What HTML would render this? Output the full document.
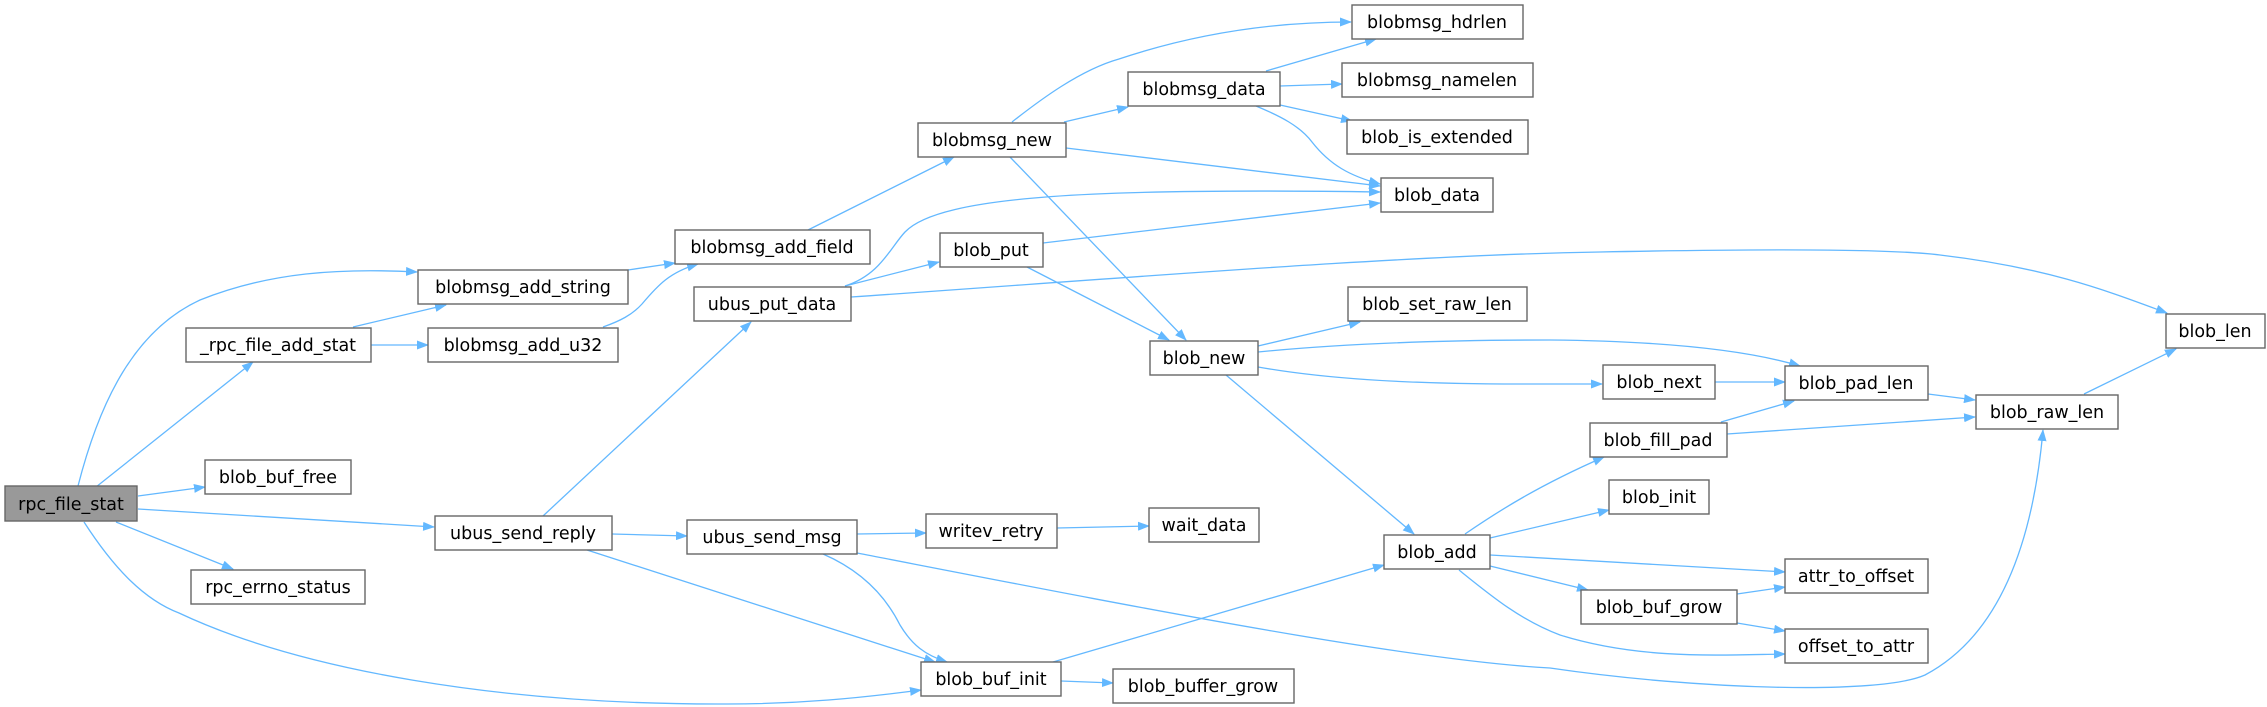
<!DOCTYPE html>
<html><head><meta charset="utf-8"><style>
html,body{margin:0;padding:0;background:#fff;}
svg{display:block;}
text{font-family:"DejaVu Sans","Liberation Sans",sans-serif;font-size:17.5px;fill:#000;text-anchor:middle;}
.b{fill:#fff;stroke:#666;stroke-width:1.4;}
.e{fill:none;stroke:#63b8ff;stroke-width:1.3;}
</style></head><body>
<svg width="2267" height="707" viewBox="0 0 2267 707" xmlns="http://www.w3.org/2000/svg">
<defs><marker id="a" markerWidth="12" markerHeight="9" refX="11" refY="4.5" orient="auto" markerUnits="userSpaceOnUse"><path d="M0,0 L12,4.5 L0,9 Z" fill="#63b8ff"/></marker></defs>
<g class="e" marker-end="url(#a)">
<path d="M78,486 C100,400 135,330 200,300 C270,272 340,268 417,272"/>
<path d="M96,487 L253,362"/>
<path d="M138,496 L205,487"/>
<path d="M138,509 L434,527"/>
<path d="M116,522 L233,569"/>
<path d="M84,522 C115,570 145,600 179,613 C300,670 500,705 727,704 C800,704 860,698 921,690"/>
<path d="M353,327 L446,305"/>
<path d="M371,345 L428,345"/>
<path d="M628,270 L675,263"/>
<path d="M603,327 C620,321 632,315 642,304 C658,285 670,272 698,264"/>
<path d="M808,230 L954,157"/>
<path d="M1012,122 C1040,100 1080,70 1119,59 C1200,32 1280,22 1351,22"/>
<path d="M1064,122 L1128,107"/>
<path d="M1066,148 L1380,186"/>
<path d="M1010,157 L1186,340"/>
<path d="M1266,71 L1376,39"/>
<path d="M1280,86 L1342,84"/>
<path d="M1280,105 L1352,121"/>
<path d="M1256,106 C1280,116 1300,126 1312,142 C1330,165 1350,176 1380,184"/>
<path d="M845,286 C880,275 890,248 905,232 C940,195 1100,188 1380,192"/>
<path d="M845,286 L939,262"/>
<path d="M851,297 C1100,280 1400,255 1600,252 C1800,248 1900,250 1940,255 C2050,268 2110,292 2167,313"/>
<path d="M543,516 L751,322"/>
<path d="M1043,243 L1380,203"/>
<path d="M1027,267 L1169,340"/>
<path d="M1258,346 L1360,322"/>
<path d="M1258,352 C1350,343 1450,340 1550,340 C1650,341 1740,348 1800,366"/>
<path d="M1258,367 C1320,378 1400,384 1520,384 L1602,384"/>
<path d="M1226,375 L1414,534"/>
<path d="M1715,382 L1785,382"/>
<path d="M1928,394 L1975,400"/>
<path d="M1721,422 L1794,401"/>
<path d="M1727,434 L1975,417"/>
<path d="M2084,394 L2176,349"/>
<path d="M1465,534 C1500,510 1540,485 1604,457"/>
<path d="M1490,538 L1609,510"/>
<path d="M1490,555 L1785,572"/>
<path d="M1490,566 L1588,590"/>
<path d="M1459,570 C1490,595 1520,620 1560,635 C1640,660 1720,655 1785,654"/>
<path d="M1737,594 L1785,587"/>
<path d="M1737,623 L1785,631"/>
<path d="M857,534 L926,533"/>
<path d="M823,554 C860,570 885,595 900,625 C912,645 925,655 947,662"/>
<path d="M857,553 C1100,600 1400,660 1550,668 C1700,690 1880,695 1925,675 C2010,630 2035,520 2043,430"/>
<path d="M612,534 L687,536"/>
<path d="M587,550 L935,662"/>
<path d="M1057,528 L1149,526"/>
<path d="M1053,662 L1384,565"/>
<path d="M1061,681 L1113,683"/>
</g>
<rect x="5" y="486" width="132" height="35" style="fill:#999;stroke:#666;stroke-width:1.4"/><text x="71" y="510">rpc_file_stat</text>
<rect class="b" x="418" y="270" width="210" height="34"/><text x="523" y="293">blobmsg_add_string</text>
<rect class="b" x="186" y="328" width="185" height="34"/><text x="278" y="351">_rpc_file_add_stat</text>
<rect class="b" x="428" y="328" width="190" height="34"/><text x="523" y="351">blobmsg_add_u32</text>
<rect class="b" x="205" y="460" width="146" height="34"/><text x="278" y="483">blob_buf_free</text>
<rect class="b" x="435" y="516" width="177" height="34"/><text x="523" y="539">ubus_send_reply</text>
<rect class="b" x="191" y="570" width="174" height="34"/><text x="278" y="593">rpc_errno_status</text>
<rect class="b" x="675" y="230" width="195" height="34"/><text x="772" y="253">blobmsg_add_field</text>
<rect class="b" x="694" y="287" width="157" height="34"/><text x="772" y="310">ubus_put_data</text>
<rect class="b" x="687" y="520" width="170" height="34"/><text x="772" y="543">ubus_send_msg</text>
<rect class="b" x="1352" y="5" width="171" height="34"/><text x="1437" y="28">blobmsg_hdrlen</text>
<rect class="b" x="1342" y="63" width="191" height="34"/><text x="1437" y="86">blobmsg_namelen</text>
<rect class="b" x="1347" y="120" width="181" height="34"/><text x="1437" y="143">blob_is_extended</text>
<rect class="b" x="1381" y="178" width="112" height="34"/><text x="1437" y="201">blob_data</text>
<rect class="b" x="1128" y="72" width="152" height="34"/><text x="1204" y="95">blobmsg_data</text>
<rect class="b" x="918" y="123" width="148" height="34"/><text x="992" y="146">blobmsg_new</text>
<rect class="b" x="940" y="233" width="103" height="34"/><text x="991" y="256">blob_put</text>
<rect class="b" x="1348" y="287" width="179" height="34"/><text x="1437" y="310">blob_set_raw_len</text>
<rect class="b" x="1150" y="341" width="108" height="34"/><text x="1204" y="364">blob_new</text>
<rect class="b" x="926" y="514" width="131" height="34"/><text x="991" y="537">writev_retry</text>
<rect class="b" x="1149" y="508" width="110" height="34"/><text x="1204" y="531">wait_data</text>
<rect class="b" x="1384" y="535" width="106" height="34"/><text x="1437" y="558">blob_add</text>
<rect class="b" x="921" y="662" width="140" height="34"/><text x="991" y="685">blob_buf_init</text>
<rect class="b" x="1113" y="669" width="181" height="34"/><text x="1203" y="692">blob_buffer_grow</text>
<rect class="b" x="2166" y="314" width="99" height="34"/><text x="2215" y="337">blob_len</text>
<rect class="b" x="1603" y="365" width="112" height="34"/><text x="1659" y="388">blob_next</text>
<rect class="b" x="1785" y="366" width="143" height="34"/><text x="1856" y="389">blob_pad_len</text>
<rect class="b" x="1976" y="395" width="142" height="34"/><text x="2047" y="418">blob_raw_len</text>
<rect class="b" x="1590" y="423" width="137" height="34"/><text x="1658" y="446">blob_fill_pad</text>
<rect class="b" x="1609" y="480" width="100" height="34"/><text x="1659" y="503">blob_init</text>
<rect class="b" x="1785" y="559" width="143" height="34"/><text x="1856" y="582">attr_to_offset</text>
<rect class="b" x="1581" y="590" width="156" height="34"/><text x="1659" y="613">blob_buf_grow</text>
<rect class="b" x="1785" y="629" width="143" height="34"/><text x="1856" y="652">offset_to_attr</text>
</svg>
</body></html>
